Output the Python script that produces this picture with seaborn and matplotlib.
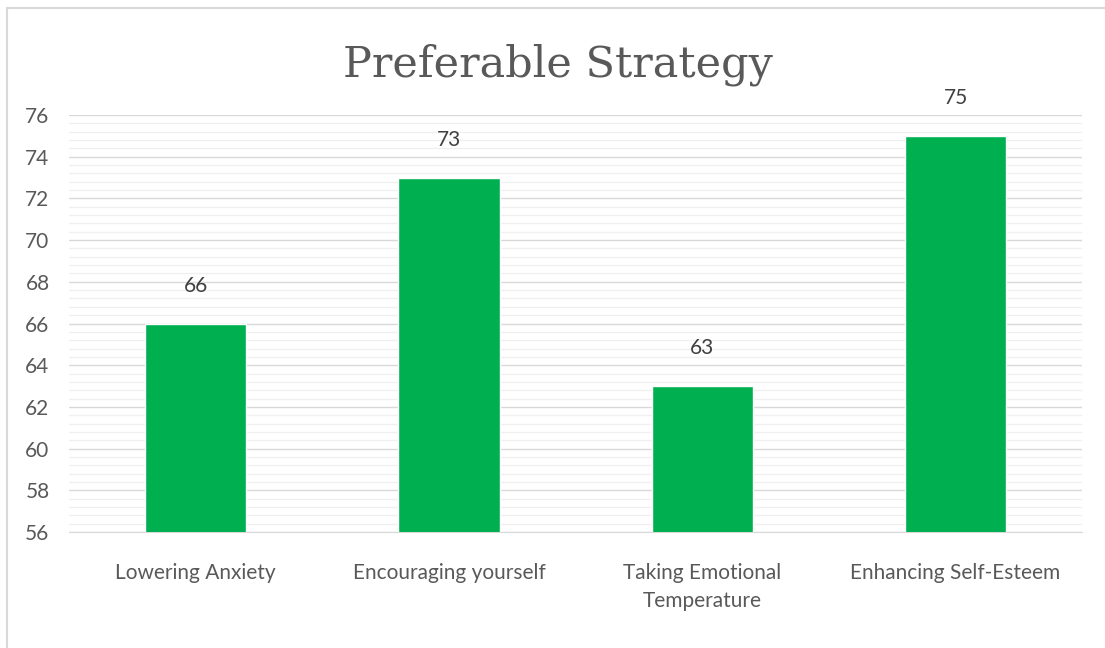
import numpy as np
import pandas as pd
import seaborn as sns
import matplotlib.pyplot as plt
from matplotlib.patches import Rectangle
from matplotlib.ticker import MultipleLocator

strategies = ['Lowering Anxiety', 'Encouraging yourself',
              'Taking Emotional\nTemperature', 'Enhancing Self-Esteem']
scores = [66, 73, 63, 75]

df = pd.DataFrame({'strategy': strategies, 'score': scores})

sns.set_style('white')
plt.rcParams['font.family'] = ['Lato', 'DejaVu Sans']

fig = plt.figure(figsize=(11.05, 6.48), dpi=100)
ax = fig.add_axes([0.0624, 0.179, 0.917, 0.6435])

# light frame around the chart
fig.patches.append(Rectangle((7 / 1105, -0.1), 1.2, 1 - 8 / 648 + 0.1,
                             transform=fig.transFigure, fill=False,
                             edgecolor='#d9d9d9', linewidth=1.5))

sns.barplot(data=df, x='strategy', y='score', color='#00B050',
            saturation=1, width=0.4, ax=ax, zorder=3)

ax.set_ylim(56, 76)
ax.yaxis.set_major_locator(MultipleLocator(2))
ax.yaxis.set_minor_locator(MultipleLocator(0.4))
ax.grid(axis='y', which='major', color='#d9d9d9', linewidth=1, zorder=0)
ax.grid(axis='y', which='minor', color='#f0f0f0', linewidth=1, zorder=0)
ax.set_axisbelow(True)

for s in ['top', 'right', 'left']:
    ax.spines[s].set_visible(False)
ax.spines['bottom'].set_color('#d9d9d9')

ax.tick_params(axis='both', which='both', length=0, colors='#595959',
               labelsize=15)
ax.tick_params(axis='x', pad=22)
ax.tick_params(axis='y', pad=14)
for lbl in ax.get_xticklabels():
    lbl.set_linespacing(1.55)
ax.set_xlabel('')
ax.set_ylabel('')

for c in ax.containers:
    ax.bar_label(c, padding=20, fontsize=15, color='#404040')

fig.text(0.505, 0.9, 'Preferable Strategy', ha='center', va='center',
         fontsize=31, color='#595959', family=['DejaVu Serif'])

plt.savefig('out.png', dpi=100)
